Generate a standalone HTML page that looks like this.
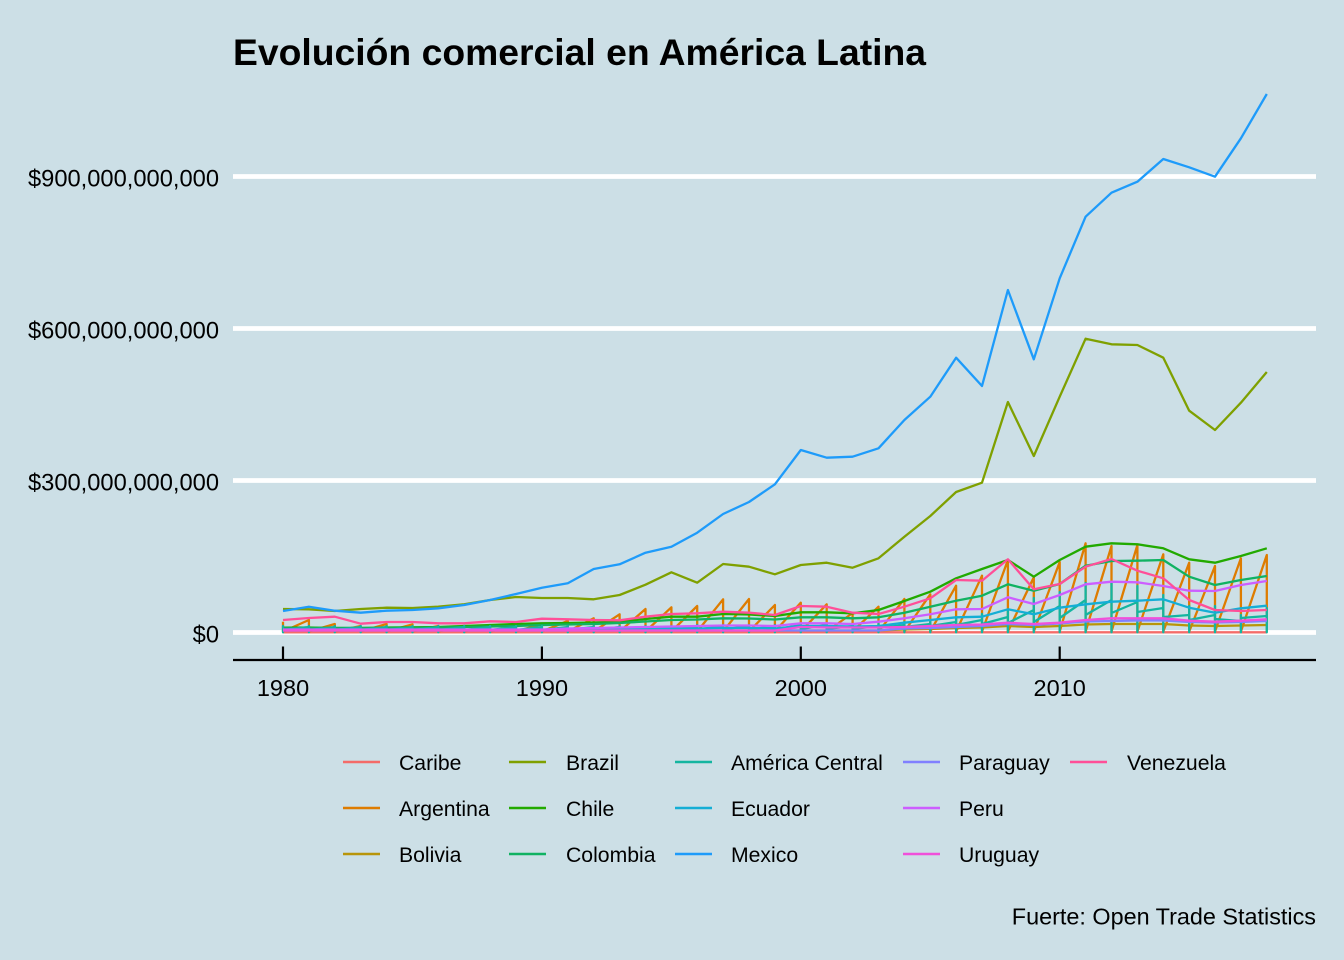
<!DOCTYPE html>
<html>
<head>
<meta charset="utf-8">
<style>
html,body{margin:0;padding:0;background:#ccdfe6;}
svg{display:block;}
text{font-family:"Liberation Sans",Arial,sans-serif;fill:#000;}
</style>
</head>
<body>
<svg width="1344" height="960" viewBox="0 0 1344 960" xmlns="http://www.w3.org/2000/svg">
<rect x="0" y="0" width="1344" height="960" fill="#ccdfe6"/>

<!-- title -->
<text x="233" y="65" font-size="37.3" font-weight="bold">Evolución comercial en América Latina</text>

<!-- gridlines -->
<g stroke="#ffffff" stroke-width="4.7">
<line x1="233" y1="632.5" x2="1316" y2="632.5"/>
<line x1="233" y1="480.5" x2="1316" y2="480.5"/>
<line x1="233" y1="328.5" x2="1316" y2="328.5"/>
<line x1="233" y1="176.5" x2="1316" y2="176.5"/>
</g>

<!-- y labels -->
<g font-size="23.7" text-anchor="end">
<text x="219" y="642.5">$0</text>
<text x="219" y="490.5">$300,000,000,000</text>
<text x="219" y="338.5">$600,000,000,000</text>
<text x="219" y="186.5">$900,000,000,000</text>
</g>

<!-- axis -->
<line x1="233" y1="660" x2="1316" y2="660" stroke="#000" stroke-width="2.2"/>
<g stroke="#000" stroke-width="2.2">
<line x1="283" y1="646.5" x2="283" y2="660"/>
<line x1="541.9" y1="646.5" x2="541.9" y2="660"/>
<line x1="800.8" y1="646.5" x2="800.8" y2="660"/>
<line x1="1059.7" y1="646.5" x2="1059.7" y2="660"/>
</g>
<g font-size="23.5" text-anchor="middle">
<text x="283" y="696">1980</text>
<text x="541.9" y="696">1990</text>
<text x="800.8" y="696">2000</text>
<text x="1059.7" y="696">2010</text>
</g>

<!-- series -->
<g fill="none" stroke-width="2.3" stroke-linejoin="round" stroke-linecap="butt">
<!-- Caribe -->
<polyline stroke="#f46c69" points="283,632.3 1266.8,632.3"/>
<!-- Argentina -->
<polyline stroke="#de7c00" points="283,621.7 283,631.5 308.9,620 308.9,631.5 334.8,624 334.8,631.5 360.7,626 360.7,631.5 386.6,624 386.6,631.5 412.5,624.3 412.5,631.5 438.3,626 438.3,631.5 464.2,626 464.2,631.5 490.1,625 490.1,631.5 516,626 516,631.5 541.9,624 541.9,631.5 567.8,621 567.8,631.5 593.7,618.3 593.7,631.5 619.6,614.3 619.6,631.5 645.5,609 645.5,631.5 671.4,607.3 671.4,631.5 697.2,606 697.2,631.5 723.1,599.3 723.1,631.5 749,599 749,631.5 774.9,605 774.9,631.5 800.8,602.7 800.8,631.5 826.7,604.3 826.7,631.5 852.6,613 852.6,631.5 878.5,606.7 878.5,631.5 904.4,599 904.4,631.5 930.3,594.3 930.3,631.5 956.1,585.7 956.1,631.5 982,575.7 982,631.5 1007.9,560 1007.9,631.5 1033.8,577.3 1033.8,631.5 1059.7,562 1059.7,631.5 1085.6,543.3 1085.6,631.5 1111.5,546 1111.5,631.5 1137.4,545 1137.4,631.5 1163.3,554.3 1163.3,631.5 1189.2,562.7 1189.2,631.5 1215,566 1215,631.5 1240.9,558.3 1240.9,631.5 1266.8,555 1266.8,631.5"/>
<!-- Bolivia -->
<polyline stroke="#b8950a" points="283,630.5 878.5,630.5 904.4,629.5 930.3,629 956.1,628 982,627.5 1007.9,626 1033.8,627 1059.7,626 1085.6,624.5 1111.5,624 1137.4,624 1163.3,624 1189.2,625.5 1215,626 1240.9,625.5 1266.8,625"/>
<!-- Brazil -->
<polyline stroke="#7fa000" points="283,609 308.9,609.3 334.8,611 360.7,609 386.6,607.7 412.5,608 438.3,606.7 464.2,604.3 490.1,600 516,597 541.9,598 567.8,598 593.7,599.3 619.6,595 645.5,584.7 671.4,572.3 697.2,582.7 723.1,564 749,566.7 774.9,574.3 800.8,565 826.7,562.7 852.6,567.7 878.5,558.3 904.4,536.7 930.3,516 956.1,492 982,482.7 1007.9,402 1033.8,456 1059.7,396.7 1085.6,338.7 1111.5,344.3 1137.4,345 1163.3,357.7 1189.2,410.7 1215,430 1240.9,402.7 1266.8,372"/>
<!-- Chile -->
<polyline stroke="#22aa00" points="283,627.7 308.9,627.5 334.8,628 360.7,628 386.6,627.5 412.5,627.3 438.3,627 464.2,626 490.1,625 516,624 541.9,623.3 567.8,623 593.7,622.5 619.6,621.7 645.5,619 671.4,616.7 697.2,616.7 723.1,614 749,614.5 774.9,616 800.8,612.3 826.7,612.3 852.6,613.3 878.5,610 904.4,601 930.3,591.7 956.1,578.3 982,569 1007.9,560 1033.8,576.7 1059.7,560 1085.6,546.7 1111.5,543.3 1137.4,544.3 1163.3,548.3 1189.2,559.3 1215,562.7 1240.9,556 1266.8,548.3"/>
<!-- Colombia -->
<polyline stroke="#10b262" points="283,628 412.5,627.8 438.3,627.5 464.2,627 490.1,626.5 516,626 541.9,625 567.8,624.5 593.7,624 619.6,623 645.5,621.5 671.4,620 697.2,619.5 723.1,618.3 749,618.5 774.9,619.5 800.8,617.3 826.7,617.3 852.6,618.3 878.5,617.3 904.4,612.7 930.3,606.7 956.1,600.7 982,595.7 1007.9,584.3 1033.8,590.7 1059.7,584 1085.6,565.7 1111.5,561 1137.4,560.7 1163.3,560 1189.2,576.7 1215,585 1240.9,580 1266.8,576"/>
<!-- America Central -->
<polyline stroke="#14b5a0" points="283,627 283,626 283,632.3 283,630 308.9,627 308.9,626 308.9,632.3 308.9,630 334.8,627 334.8,626 334.8,632.3 334.8,630 360.7,627 360.7,626 360.7,632.3 360.7,630 386.6,627 386.6,626 386.6,632.3 386.6,630 412.5,627 412.5,626 412.5,632.3 412.5,630 438.3,627 438.3,626 438.3,632.3 438.3,630 464.2,627 464.2,626 464.2,632.3 464.2,630 490.1,627 490.1,626 490.1,632.3 490.1,630 516,627 516,626 516,632.3 516,630 541.9,627 541.9,626 541.9,632.3 541.9,630 567.8,627 567.8,626 567.8,632.3 567.8,630 593.7,627 593.7,626 593.7,632.3 593.7,630 619.6,627 619.6,626 619.6,632.3 619.6,630 645.5,627 645.5,626 645.5,632.3 645.5,630 671.4,627 671.4,626 671.4,632.3 671.4,630 697.2,626 697.2,625 697.2,632.3 697.2,629.5 723.1,626 723.1,625 723.1,632.3 723.1,629.5 749,626 749,625 749,632.3 749,629.5 774.9,626 774.9,625 774.9,632.3 774.9,629.5 800.8,625 800.8,624 800.8,632.3 800.8,629 826.7,625 826.7,624 826.7,632.3 826.7,629 852.6,626 852.6,625 852.6,632.3 852.6,629 878.5,626 878.5,624 878.5,632.3 878.5,628 904.4,625 904.4,622 904.4,632.3 904.4,627 930.3,624 930.3,620 930.3,632.3 930.3,626 956.1,622 956.1,617 956.1,632.3 956.1,625 982,620 982,614 982,632.3 982,624 1007.9,617 1007.9,610 1007.9,632.3 1007.9,623 1033.8,610 1033.8,598 1033.8,632.3 1033.8,622 1059.7,606 1059.7,592 1059.7,632.3 1059.7,618 1085.6,600 1085.6,583 1085.6,632.3 1085.6,615 1111.5,600 1111.5,583 1111.5,632.3 1111.5,613 1137.4,602 1137.4,586 1137.4,632.3 1137.4,612 1163.3,608 1163.3,595 1163.3,632.3 1163.3,617 1189.2,615 1189.2,606 1189.2,632.3 1189.2,620 1215,615 1215,606 1215,632.3 1215,619 1240.9,621 1240.9,615 1240.9,632.3 1240.9,618 1266.8,616 1266.8,608 1266.8,632.3 1266.8,616"/>
<!-- Ecuador -->
<polyline stroke="#14aed5" points="283,630 541.9,630 567.8,629.5 593.7,629.5 619.6,629 645.5,629 671.4,628.5 697.2,628.5 723.1,628 749,628 774.9,628.5 800.8,626 826.7,626 852.6,626.5 878.5,626 904.4,622.7 930.3,620 956.1,617.3 982,616.7 1007.9,609.3 1033.8,614.3 1059.7,607.7 1085.6,604.3 1111.5,601.7 1137.4,600.7 1163.3,599.3 1189.2,607.7 1215,612.7 1240.9,608.3 1266.8,605.7"/>
<!-- Mexico -->
<polyline stroke="#1e9bfa" points="283,611 308.9,606.7 334.8,610.7 360.7,612.7 386.6,610.7 412.5,610 438.3,608.3 464.2,605 490.1,600 516,594 541.9,587.7 567.8,583.3 593.7,569 619.6,564.3 645.5,552.7 671.4,546.7 697.2,532.7 723.1,514 749,502 774.9,484.3 800.8,450 826.7,457.7 852.6,456.7 878.5,448.3 904.4,420 930.3,396.7 956.1,357.7 982,386 1007.9,290 1033.8,359.3 1059.7,278.3 1085.6,216.7 1111.5,192.7 1137.4,181.7 1163.3,159 1189.2,167.3 1215,176.7 1240.9,138.3 1266.8,94"/>
<!-- Paraguay -->
<polyline stroke="#8080ff" points="283,630.5 878.5,630.5 904.4,628.5 930.3,628 956.1,627 982,626 1007.9,624 1033.8,625 1059.7,623.5 1085.6,621.5 1111.5,621 1137.4,620.5 1163.3,620.5 1189.2,622 1215,622.5 1240.9,622 1266.8,621"/>
<!-- Peru -->
<polyline stroke="#cc5eff" points="283,629.5 541.9,629.5 567.8,628.5 593.7,628 619.6,627.5 645.5,627 671.4,626.5 697.2,626 723.1,625.5 749,625.5 774.9,626 800.8,623.3 826.7,623.3 852.6,624 878.5,621.7 904.4,618.3 930.3,614.3 956.1,609.3 982,609 1007.9,597.3 1033.8,604 1059.7,595 1085.6,584.3 1111.5,581.7 1137.4,582.3 1163.3,586 1189.2,590.7 1215,591 1240.9,585 1266.8,581"/>
<!-- Uruguay -->
<polyline stroke="#f050da" points="283,630.5 774.9,630.5 800.8,627 826.7,627.5 852.6,627.5 878.5,627.5 904.4,627 930.3,626 956.1,625 982,624.5 1007.9,622.7 1033.8,624 1059.7,622.7 1085.6,620 1111.5,618.3 1137.4,618.3 1163.3,618.3 1189.2,620.7 1215,621.7 1240.9,620.7 1266.8,619.3"/>
<!-- Venezuela -->
<polyline stroke="#ff4f98" points="283,620 308.9,618 334.8,616.7 360.7,623.7 386.6,622 412.5,622 438.3,623.3 464.2,623.3 490.1,621.3 516,622 541.9,618.7 567.8,619.3 593.7,620 619.6,620.3 645.5,616.7 671.4,614 697.2,613.3 723.1,611.7 749,612.7 774.9,615 800.8,606 826.7,606.7 852.6,612.7 878.5,614 904.4,606.7 930.3,598.3 956.1,580 982,580.7 1007.9,559.3 1033.8,589.3 1059.7,584 1085.6,566.7 1111.5,559 1137.4,570.7 1163.3,578.3 1189.2,600 1215,610 1240.9,611 1266.8,610"/>
</g>

<!-- legend -->
<g stroke-width="2.6">
<line x1="343" y1="762" x2="380" y2="762" stroke="#f46c69"/>
<line x1="343" y1="808" x2="380" y2="808" stroke="#de7c00"/>
<line x1="343" y1="854" x2="380" y2="854" stroke="#b8950a"/>
<line x1="509" y1="762" x2="546" y2="762" stroke="#7fa000"/>
<line x1="509" y1="808" x2="546" y2="808" stroke="#22aa00"/>
<line x1="509" y1="854" x2="546" y2="854" stroke="#10b262"/>
<line x1="675" y1="762" x2="712" y2="762" stroke="#14b5a0"/>
<line x1="675" y1="808" x2="712" y2="808" stroke="#14aed5"/>
<line x1="675" y1="854" x2="712" y2="854" stroke="#1e9bfa"/>
<line x1="903" y1="762" x2="940" y2="762" stroke="#8080ff"/>
<line x1="903" y1="808" x2="940" y2="808" stroke="#cc5eff"/>
<line x1="903" y1="854" x2="940" y2="854" stroke="#f050da"/>
<line x1="1070" y1="762" x2="1107" y2="762" stroke="#ff4f98"/>
</g>
<g font-size="21.2">
<text x="399" y="770">Caribe</text>
<text x="399" y="816">Argentina</text>
<text x="399" y="862">Bolivia</text>
<text x="566" y="770">Brazil</text>
<text x="566" y="816">Chile</text>
<text x="566" y="862">Colombia</text>
<text x="731" y="770">América Central</text>
<text x="731" y="816">Ecuador</text>
<text x="731" y="862">Mexico</text>
<text x="959" y="770">Paraguay</text>
<text x="959" y="816">Peru</text>
<text x="959" y="862">Uruguay</text>
<text x="1127" y="770">Venezuela</text>
</g>

<!-- caption -->
<text x="1316" y="924.5" font-size="23.4" text-anchor="end">Fuerte: Open Trade Statistics</text>
</svg>
</body>
</html>
